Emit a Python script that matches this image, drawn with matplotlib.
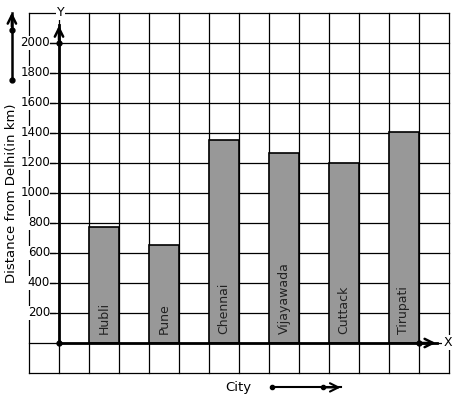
import matplotlib.pyplot as plt

cities = ['Hubli', 'Pune', 'Chennai', 'Vijayawada', 'Cuttack', 'Tirupati']
distance = [775, 655, 1355, 1265, 1200, 1405]
bar_left = [1, 3, 5, 7, 9, 11]
y_ticks = [200, 400, 600, 800, 1000, 1200, 1400, 1600, 1800, 2000]

fig = plt.figure(figsize=(4.57, 3.99), dpi=100)
ax = fig.add_axes([0, 0, 1, 1])
# 1 x-unit = 30 px, 200 km = 30 px, origin at px (59, 343)
ax.set_xlim(-59 / 30, (457 - 59) / 30)
ax.set_ylim(-(399 - 343) / 30 * 200, 343 / 30 * 200)
ax.axis('off')

# graph paper grid
for gx in range(-1, 14):
    ax.plot([gx, gx], [-200, 2200], color='black', lw=0.9, zorder=1)
for gy in range(-200, 2201, 200):
    ax.plot([-1, 13], [gy, gy], color='black', lw=0.9, zorder=1)

# bars
ax.bar([b + 0.5 for b in bar_left], distance, width=1, color='#989898',
       edgecolor='black', lw=1.2, zorder=2)
for b, c in zip(bar_left, cities):
    ax.text(b + 0.5, 62, c, rotation=90, ha='center', va='bottom',
            fontsize=9, color='#222222', zorder=3)

# axes with arrows
ax.plot([0, 0], [0, 2120], color='black', lw=2, zorder=4)
ax.annotate('', xy=(0, 2135), xytext=(0, 2000),
            arrowprops=dict(arrowstyle='->,head_length=0.6,head_width=0.3', lw=1.8, color='black'), zorder=4)
ax.plot([0, 12.6], [0, 0], color='black', lw=2, zorder=4)
ax.annotate('', xy=(12.65, 0), xytext=(12, 0),
            arrowprops=dict(arrowstyle='->,head_length=0.6,head_width=0.3', lw=1.8, color='black'), zorder=4)
ax.plot([0, 0, 12], [0, 2000, 0], 'o', color='black', ms=3.5, zorder=5)

ax.text(0.06, 2200, 'Y', ha='center', va='center', fontsize=9,
        bbox=dict(facecolor='white', edgecolor='none', pad=0.5), zorder=5)
ax.text(12.95, 5, 'X', ha='center', va='center', fontsize=9,
        bbox=dict(facecolor='white', edgecolor='none', pad=0.5), zorder=5)

# tick labels
for v in y_ticks:
    ax.text(-0.3, v, str(v), ha='right', va='center', fontsize=8.5,
            bbox=dict(facecolor='white', edgecolor='none', pad=0.3), zorder=3)
    ax.plot([-0.3, -0.13], [v, v], color='black', lw=0.9, zorder=3)

ax.text(-1.57, 1000, 'Distance from Delhi(in km)', rotation=90, ha='center',
        va='center', fontsize=9.5,
        bbox=dict(facecolor='white', edgecolor='none', pad=0.5), zorder=3)
ax.text(5.98, -295, 'City', ha='center', va='center', fontsize=9.5)

# decorative arrows
ax.plot([-1.57, -1.57], [1753, 2200], color='black', lw=1.8, zorder=4)
ax.annotate('', xy=(-1.57, 2222), xytext=(-1.57, 2090),
            arrowprops=dict(arrowstyle='->,head_length=0.6,head_width=0.3', lw=1.8, color='black'), zorder=4)
ax.plot([-1.57, -1.57], [1753, 2087], 'o', color='black', ms=3.5, zorder=5)

ax.plot([7.1, 9.4], [-296, -296], color='black', lw=1.5, zorder=4)
ax.annotate('', xy=(9.48, -296), xytext=(8.8, -296),
            arrowprops=dict(arrowstyle='->,head_length=0.6,head_width=0.3', lw=1.5, color='black'), zorder=4)
ax.plot([7.1, 8.8], [-296, -296], 'o', color='black', ms=3, zorder=5)

fig.savefig('out.png', dpi=100)
